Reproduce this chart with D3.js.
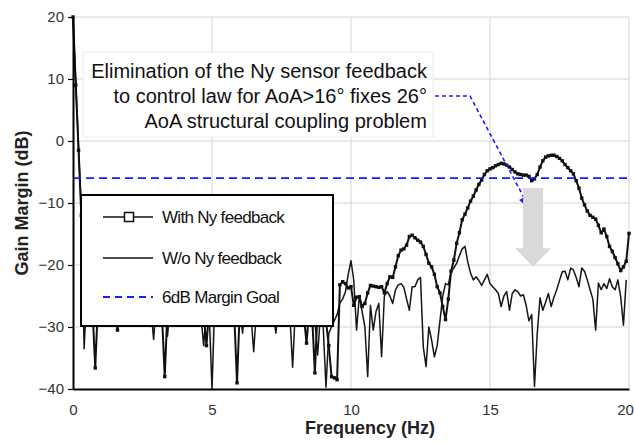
<!DOCTYPE html>
<html>
<head>
<meta charset="utf-8">
<script src="https://cdn.jsdelivr.net/npm/d3@7"></script>
<style>
  html, body { margin: 0; padding: 0; background: #fff; }
  svg { display: block; font-family: "Liberation Sans", Arial, sans-serif; }
</style>
</head>
<body>
<svg id="chart" width="634" height="444"></svg>
<script>
// Frequency grid (Hz) shared by both gain-margin sweeps
const freqStep = 0.1;

// Gain margin (dB) with the Ny sensor feedback, 0.0 … 20.0 Hz
const gainWith = [
  20, 9, -1.5, -12, -18, -22, -25, -27, -36.6, -26,
  -24, -23, -25, -26, -24, -27, -30.5, -27, -25, -24,
  -22, -23, -25, -24, -22, -23, -25, -26, -24, -25,
  -27, -26, -28, -38, -27, -25, -23, -22, -24, -25,
  -23, -22, -24, -26, -25, -24, -27, -28, -33, -27,
  -25, -24, -23, -22, -24, -25, -24, -26, -28, -39,
  -27, -25, -23, -22, -23, -25, -24, -22, -21, -23,
  -24, -22, -23, -25, -24, -22, -21, -23, -25, -26,
  -24, -23, -26, -28, -32.6, -27, -28, -37.4, -27, -25,
  -26, -29, -33, -38, -38.2, -38.5, -23.2, -22.7, -23.0, -23.7,
  -23.5, -26.5, -25.2, -25.1, -26.7, -26.2, -24.5, -23.3, -23.4, -23.5,
  -23.6, -23.5, -24.5, -23.0, -21.9, -22.0, -20.3, -18.5, -17.6, -17.4,
  -16.8, -15.4, -15.2, -15.6, -16.0, -16.3, -17.0, -18.3, -19.7, -20.3,
  -21.5, -23.5, -24.5, -26.7, -28.8, -25.5, -21.0, -19.2, -16.5, -14.8,
  -12.7, -11.8, -10.8, -9.7, -8.9, -7.9, -7.0, -6.3, -5.4, -4.8,
  -4.5, -4.3, -4.0, -3.8, -3.6, -3.7, -3.9, -4.2, -4.6, -5.0,
  -5.3, -5.4, -5.5, -5.5, -5.7, -6.4, -6.1, -5.4, -4.2, -3.2,
  -2.6, -2.4, -2.3, -2.3, -2.5, -2.8, -3.2, -3.8, -4.3, -4.8,
  -5.3, -6.4, -7.6, -9.2, -10.3, -11.3, -12.0, -12.3, -12.6, -13.6,
  -14.8, -14.2, -15.4, -17.0, -17.8, -18.8, -19.8, -20.9, -20.3, -19.4,
  -14.9
];

// Gain margin (dB) without the Ny sensor feedback, 0.0 … 19.9 Hz
const gainWithout = [
  20, 9.5, -1, -11, -33.5, -24, -26, -28, -25, -23,
  -25, -27, -24, -22, -25, -26, -24, -23, -25, -27,
  -26, -24, -25, -27, -26, -24, -23, -25, -27, -32,
  -26, -24, -25, -27, -31.5, -26, -25, -27, -26, -24,
  -25, -27, -26, -24, -25, -27, -28, -33, -27, -28,
  -40, -26, -25, -27, -26, -24, -25, -27, -26, -28,
  -27, -31, -26, -25, -28, -34, -27, -25, -26, -24,
  -25, -27, -28, -31, -26, -25, -27, -26, -28, -36.5,
  -27, -25, -26, -28, -27, -26, -28, -29, -34.5, -28,
  -30, -39.7, -31, -30, -29, -28, -26.1, -25.5, -24.3, -21.5,
  -19.3, -22.5, -30.5, -25.0, -27.5, -30.0, -38.0, -26.5, -30.5, -27.5,
  -26.2, -34.8, -25.0, -24.3, -25.0, -26.2, -24.0, -23.2, -23.0, -23.6,
  -25.5, -27.3, -23.5, -23.5, -22.4, -22.0, -33.2, -36.4, -30.0, -32.1,
  -34.8, -33.0, -29.0, -25.0, -23.0, -23.2, -21.0, -20.5, -19.7, -18.5,
  -17.4, -17.0, -19.5, -21.3, -22.4, -21.9, -22.5, -23.3, -22.4, -21.5,
  -23.0, -23.5, -24.0, -24.6, -26.7, -25.0, -24.3, -27.3, -24.6, -24.0,
  -24.3, -25.0, -24.8, -26.5, -29.0, -28.0, -39.6, -31.0, -25.3, -27.3,
  -26.0, -24.6, -26.7, -25.2, -24.0, -22.5, -21.1, -21.0, -22.4, -20.5,
  -20.8, -22.0, -23.5, -20.5, -21.0, -22.4, -24.0, -25.5, -30.5, -22.9,
  -24.0, -23.0, -23.8, -22.2, -23.5, -24.0, -22.4, -25.1, -29.7, -22.4
];

// Design goal line and axis ticks
const marginGoal = -6;
const xTicks = [0, 5, 10, 15, 20];
const yTicks = [-40, -30, -20, -10, 0, 10, 20];

const legendLabels = ["With Ny feedback", "W/o Ny feedback", "6dB Margin Goal"];
const noteLines = [
  "Elimination of the Ny sensor feedback",
  "to control law for AoA>16\u00b0 fixes 26\u00b0",
  "AoA structural coupling problem"
];

const seriesWith = gainWith.map((g, i) => ({ f: +(i * freqStep).toFixed(2), g }));
const seriesWithout = gainWithout.map((g, i) => ({ f: +(i * freqStep).toFixed(2), g }));

const svg = d3.select("#chart");
const plot = { left: 73, right: 629, top: 17, bottom: 389 };

const x = d3.scaleLinear().domain([0, 20]).range([plot.left, plot.right]);
const y = d3.scaleLinear().domain([-40, 20]).range([plot.bottom, plot.top]);

const gridColor = "#d4d4d4";
const blue = "#1a1aff";

// grid
svg.append("g").selectAll("line.v").data(xTicks.filter(t => t > 0)).join("line")
  .attr("x1", d => x(d)).attr("x2", d => x(d))
  .attr("y1", plot.top).attr("y2", plot.bottom)
  .attr("stroke", gridColor).attr("stroke-width", 1);
svg.append("g").selectAll("line.h").data(yTicks.filter(t => t > -40)).join("line")
  .attr("x1", plot.left).attr("x2", plot.right)
  .attr("y1", d => y(d)).attr("y2", d => y(d))
  .attr("stroke", gridColor).attr("stroke-width", 1);

// data
const line = d3.line().x(d => x(d.f)).y(d => y(d.g));

svg.append("path").datum(seriesWithout)
  .attr("d", line).attr("fill", "none")
  .attr("stroke", "#161616").attr("stroke-width", 1.5)
  .attr("stroke-linejoin", "round");

svg.append("path").datum(seriesWith)
  .attr("d", line).attr("fill", "none")
  .attr("stroke", "#111").attr("stroke-width", 2)
  .attr("stroke-linejoin", "round");

svg.append("g").selectAll("rect").data(seriesWith).join("rect")
  .attr("x", d => x(d.f) - 1.7).attr("y", d => y(d.g) - 1.7)
  .attr("width", 3.4).attr("height", 3.4).attr("fill", "#111");

// 6 dB margin goal
svg.append("line")
  .attr("x1", x(0)).attr("x2", x(20))
  .attr("y1", y(marginGoal)).attr("y2", y(marginGoal))
  .attr("stroke", blue).attr("stroke-width", 1.8)
  .attr("stroke-dasharray", "8,5");

// axes
const yAxis = d3.axisLeft(y).tickValues(yTicks).tickSize(5).tickSizeOuter(0).tickPadding(4);
const gy = svg.append("g").attr("transform", `translate(${plot.left},0)`).call(yAxis);
gy.select(".domain").attr("stroke", "#000").attr("stroke-width", 2);
gy.selectAll(".tick line").attr("stroke", "#000").attr("stroke-width", 1.2);
gy.selectAll("text").attr("font-size", 15).attr("fill", "#333")
  .attr("font-family", "'Liberation Sans', Arial, sans-serif");

const xAxis = d3.axisBottom(x).tickValues(xTicks).tickSize(0).tickSizeOuter(0).tickPadding(15);
const gx = svg.append("g").attr("transform", `translate(0,${plot.bottom})`).call(xAxis);
gx.select(".domain").attr("stroke", "#000").attr("stroke-width", 2);
gx.selectAll("text").attr("font-size", 15).attr("fill", "#333")
  .attr("font-family", "'Liberation Sans', Arial, sans-serif");
// keep the last frequency label inside the canvas
gx.selectAll(".tick").filter(d => d === 20).select("text").attr("dx", -4);

// axis titles
svg.append("text")
  .attr("x", 370).attr("y", 434)
  .attr("text-anchor", "middle").attr("font-size", 18).attr("font-weight", "bold")
  .attr("fill", "#222").text("Frequency (Hz)");
svg.append("text")
  .attr("transform", `translate(28,${(plot.top + plot.bottom) / 2}) rotate(-90)`)
  .attr("text-anchor", "middle").attr("font-size", 18).attr("font-weight", "bold")
  .attr("fill", "#222").text("Gain Margin (dB)");

// annotation box and text
const noteBox = { f0: 0.36, f1: 12.95, g0: 14.35, g1: 0.65 };
svg.append("rect")
  .attr("x", x(noteBox.f0)).attr("y", y(noteBox.g0))
  .attr("width", x(noteBox.f1) - x(noteBox.f0))
  .attr("height", y(noteBox.g1) - y(noteBox.g0))
  .attr("fill", "#fff").attr("stroke", "#ececec").attr("stroke-width", 1);
const noteRight = x(12.73);
noteLines.forEach((t, i) => {
  svg.append("text")
    .attr("x", noteRight).attr("y", y(noteBox.g0) + 25.5 + i * 25)
    .attr("text-anchor", "end").attr("font-size", 20).attr("fill", "#111")
    .text(t);
});

// dashed pointer from the note to the With-feedback curve
const pStart = [x(13.02), y(7.26)];
const pCorner = [x(14.28), y(7.26)];
const pTip = [x(16.44), y(-10.97)];
const dx = pTip[0] - pCorner[0], dy = pTip[1] - pCorner[1];
const len = Math.hypot(dx, dy);
const ux = dx / len, uy = dy / len;
const headLen = 13, headHalf = 5.5;
const base = [pTip[0] - ux * headLen, pTip[1] - uy * headLen];
svg.append("path")
  .attr("d", d3.line()([pStart, pCorner, base]))
  .attr("fill", "none").attr("stroke", blue).attr("stroke-width", 1.6)
  .attr("stroke-dasharray", "4,3");
svg.append("path")
  .attr("d", d3.line()([
    pTip,
    [base[0] - uy * headHalf, base[1] + ux * headHalf],
    [base[0] + uy * headHalf, base[1] - ux * headHalf]
  ]) + "Z")
  .attr("fill", blue);

// grey block arrow showing the drop in margin
const ga = { f: 16.55, top: -7.6, headStart: -17.3, tip: -20.3 };
const gcx = x(ga.f), shaftHalf = 10, gHeadHalf = 18;
svg.append("path")
  .attr("d", d3.line()([
    [gcx - shaftHalf, y(ga.top)], [gcx + shaftHalf, y(ga.top)],
    [gcx + shaftHalf, y(ga.headStart)], [gcx + gHeadHalf, y(ga.headStart)],
    [gcx, y(ga.tip)], [gcx - gHeadHalf, y(ga.headStart)],
    [gcx - shaftHalf, y(ga.headStart)]
  ]) + "Z")
  .attr("fill", "#d9d9d9");

// legend
const lg = svg.append("g");
lg.append("rect").attr("x", 81).attr("y", 195).attr("width", 252).attr("height", 131)
  .attr("fill", "#fff").attr("stroke", "#000").attr("stroke-width", 2);
const rowY = [217, 258, 297];
lg.append("line").attr("x1", 103).attr("x2", 153).attr("y1", rowY[0]).attr("y2", rowY[0])
  .attr("stroke", "#111").attr("stroke-width", 1.5);
lg.append("rect").attr("x", 124.5).attr("y", rowY[0] - 4.5).attr("width", 9).attr("height", 9)
  .attr("fill", "#fff").attr("stroke", "#111").attr("stroke-width", 1.5);
lg.append("line").attr("x1", 103).attr("x2", 153).attr("y1", rowY[1]).attr("y2", rowY[1])
  .attr("stroke", "#111").attr("stroke-width", 1.5);
lg.append("line").attr("x1", 103).attr("x2", 153).attr("y1", rowY[2]).attr("y2", rowY[2])
  .attr("stroke", blue).attr("stroke-width", 2).attr("stroke-dasharray", "7,5");
legendLabels.forEach((t, i) => {
  lg.append("text").attr("x", 162).attr("y", rowY[i] + 6)
    .attr("font-size", 17).attr("letter-spacing", -0.7).attr("fill", "#111")
    .text(t);
});
</script>
</body>
</html>
